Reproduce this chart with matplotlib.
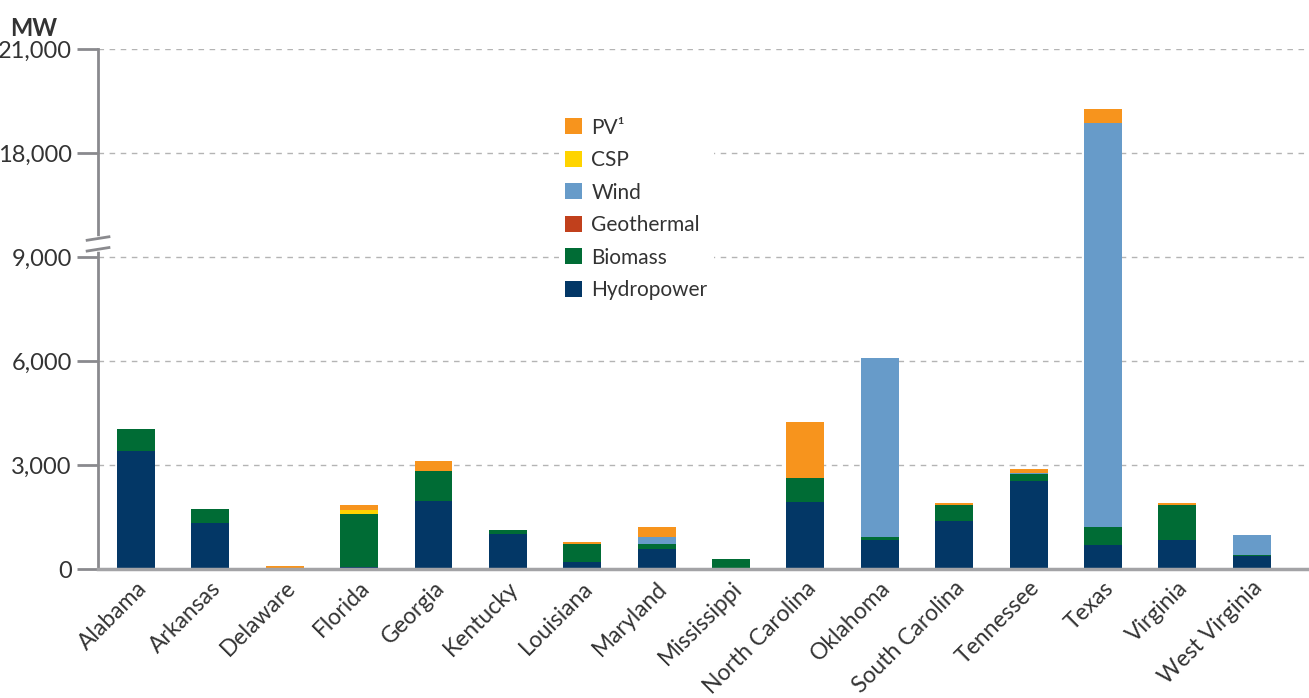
import numpy as np
import matplotlib
matplotlib.use("Agg")
import matplotlib.pyplot as plt
from matplotlib.patches import Patch

states = ["Alabama", "Arkansas", "Delaware", "Florida", "Georgia", "Kentucky",
          "Louisiana", "Maryland", "Mississippi", "North Carolina", "Oklahoma",
          "South Carolina", "Tennessee", "Texas", "Virginia", "West Virginia"]
hydro = [3390, 1330, 0, 50, 1950, 1010, 190, 570, 0, 1920, 830, 1390, 2540, 690, 830, 365]
biomass = [660, 415, 20, 1550, 880, 120, 525, 145, 300, 705, 90, 470, 205, 525, 1030, 25]
geothermal = [0] * 16
wind = [0, 0, 0, 0, 0, 0, 0, 205, 0, 0, 5160, 0, 35, 17640, 0, 590]
csp = [0, 0, 0, 90, 0, 0, 0, 0, 0, 0, 0, 0, 0, 0, 0, 0]
pv = [0, 0, 60, 145, 295, 0, 65, 290, 0, 1615, 20, 30, 110, 400, 30, 0]

series = [("Hydropower", hydro, "#033766"),
          ("Biomass", biomass, "#006c35"),
          ("Geothermal", geothermal, "#c1401c"),
          ("Wind", wind, "#679bc9"),
          ("CSP", csp, "#ffd400"),
          ("PV\u00b9", pv, "#f7941d")]

yticks = [0, 3000, 6000, 9000, 18000, 21000]


# broken axis: 9,000-18,000 squeezed into one 3,000 step
def fwd(v):
    v = np.asarray(v, dtype=float)
    return np.where(v <= 9000, v, np.where(v < 18000, 9000 + (v - 9000) / 3, v - 6000))


def inv(t):
    t = np.asarray(t, dtype=float)
    return np.where(t <= 9000, t, np.where(t < 12000, 9000 + (t - 9000) * 3, t + 6000))


FONT = ["Lato", "DejaVu Sans"]
TXT = "#333333"
plt.rcParams["font.family"] = FONT

fig = plt.figure(figsize=(13.09, 6.98), dpi=100)
ax = fig.add_axes([0.0749, 0.1848, 0.9251, 0.745])
ax.set_yscale("function", functions=(fwd, inv))

x = np.arange(len(states))
bottom = np.zeros(len(states))
handles = []
for name, vals, col in series:
    vals = np.array(vals, dtype=float)
    ax.bar(x, vals, bottom=bottom, width=0.51, color=col, linewidth=0, zorder=3)
    bottom += vals
    handles.append(Patch(facecolor=col, label=name))

ax.set_ylim(0, 21000)
ax.set_xlim(-0.51, 15.77)
ax.set_yticks(yticks)
ax.set_yticklabels([f"{v:,}" for v in yticks], fontsize=17, color=TXT)
ax.set_xticks(x)
ax.set_xticklabels(states, rotation=45, ha="right", va="top", rotation_mode="anchor",
                   fontsize=16.5, color=TXT)
ax.tick_params(axis="x", length=0, pad=6)
ax.tick_params(axis="y", length=15, width=2, color="#8a8a8e", pad=4)
for v in yticks[1:]:
    ax.axhline(v, color="#b4b4b4", lw=1, ls=(0, (4, 4)), zorder=1)

for s in ["top", "right"]:
    ax.spines[s].set_visible(False)
ax.spines["left"].set_color("#8a8a8e")
ax.spines["left"].set_linewidth(2)
ax.spines["bottom"].set_color("#a3a3a6")
ax.spines["bottom"].set_linewidth(2.5)
ax.spines["bottom"].set_zorder(4)

# break marks on the y-axis
trans = ax.get_yaxis_transform()
ax.plot([0, 0], [fwd(11000), fwd(13800)], transform=trans, color="white", lw=4,
        clip_on=False, zorder=5)
for yb in (fwd(11000), fwd(13800)):
    ax.plot([-0.009, 0.009], [yb - 150, yb + 150], transform=trans, color="#8a8a8e",
            lw=2, clip_on=False, zorder=6)

leg = ax.legend(handles=handles[::-1], loc="upper left", bbox_to_anchor=(0.372, 0.9),
                frameon=True, facecolor="white", edgecolor="none", framealpha=1,
                fontsize=15, handlelength=0.8, handleheight=0.8, handletextpad=0.45,
                labelspacing=0.6, borderpad=0.3)
for t in leg.get_texts():
    t.set_color(TXT)
leg.set_zorder(7)

fig.text(0.008, 0.975, "MW", fontsize=17, fontweight="bold", color=TXT, va="top")

fig.savefig("out.png", dpi=100)
